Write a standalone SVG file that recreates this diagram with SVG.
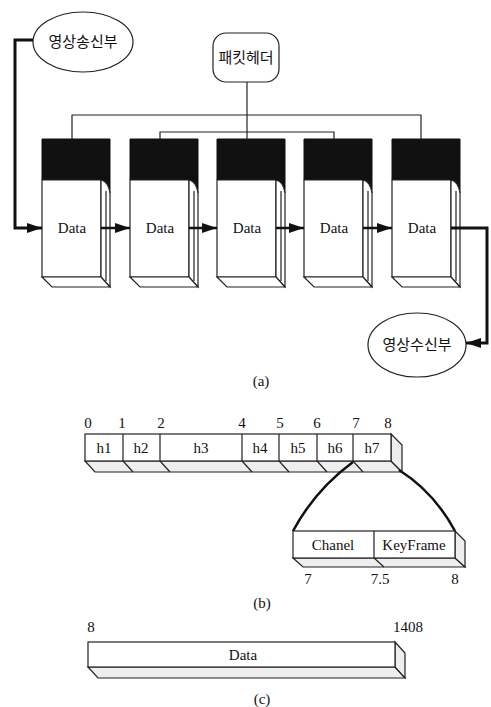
<svg xmlns="http://www.w3.org/2000/svg" width="491" height="707" viewBox="0 0 491 707">
<defs>
<style>
.ln{fill:none;stroke:#222;stroke-width:1.2}
.thick{fill:none;stroke:#111;stroke-width:3}
.arr{fill:none;stroke:#111;stroke-width:2.5}
.ko{font-family:"Noto Sans CJK KR","Noto Sans",sans-serif;font-size:15px;fill:#111;text-anchor:middle}
.t{font-family:"Liberation Serif",serif;font-size:15px;fill:#111;text-anchor:middle}
.face{fill:#fff;stroke:#222;stroke-width:1.2}
.shade{fill:#eeeeee;stroke:#222;stroke-width:1.2}
.dark{fill:#111;stroke:#111;stroke-width:1}
</style>
<marker id="ah" markerUnits="userSpaceOnUse" markerWidth="16" markerHeight="12" refX="15" refY="5" orient="auto">
<path d="M0,0 L15,5 L0,10 Z" fill="#111"/>
</marker>
<g id="blk">
<path class="dark" d="M0,0 H68 V54 Q66,42 59,41 H0 Z"/>
<path class="face" d="M0,41 H59 V138 H0 Z"/>
<path class="face" d="M59,41 Q66,42 68,54 V148 L59,138 Z"/>
<path class="ln" d="M64,52 V142"/>
<path class="face" d="M0,138 H59 L68,148 H10 Z"/>
</g>
</defs>
<rect width="491" height="707" fill="#fff"/>

<g id="sender">
<ellipse cx="83" cy="42" rx="50" ry="30" class="face"/>
<text x="83" y="47" class="ko">영상송신부</text>
</g>
<g id="header">
<rect x="213" y="33" width="66" height="49" rx="13" class="face"/>
<text x="246" y="63" class="ko">패킷헤더</text>
</g>
<g id="receiver">
<ellipse cx="417" cy="345" rx="49" ry="32" class="face"/>
<text x="417" y="350" class="ko">영상수신부</text>
</g>

<g id="box1"><use href="#blk" x="42" y="139"/><text x="72" y="233" class="t">Data</text></g>
<g id="box2"><use href="#blk" x="130" y="139"/><text x="160" y="233" class="t">Data</text></g>
<g id="box3"><use href="#blk" x="217" y="139"/><text x="247" y="233" class="t">Data</text></g>
<g id="box4"><use href="#blk" x="304" y="139"/><text x="334" y="233" class="t">Data</text></g>
<g id="box5"><use href="#blk" x="392" y="139"/><text x="422" y="233" class="t">Data</text></g>

<g id="connectors">
<path class="ln" d="M247,82 V140"/>
<path class="ln" d="M72,139 V115 H421 V139"/>
<path class="ln" d="M160,139 V132 H334 V139"/>
<path class="thick" d="M33,40 H15 V228 H42" marker-end="url(#ah)"/>
<path class="arr" d="M101,228 H130" marker-end="url(#ah)"/>
<path class="arr" d="M189,228 H217" marker-end="url(#ah)"/>
<path class="arr" d="M276,228 H304" marker-end="url(#ah)"/>
<path class="arr" d="M363,228 H392" marker-end="url(#ah)"/>
<path class="thick" d="M451,228 H487 V343 H466" marker-end="url(#ah)"/>
</g>
<text x="261" y="386" class="t">(a)</text>

<g id="header-bar">
<path class="shade" d="M85,461 H391 L402,472 H95 Z"/>
<path class="shade" d="M391,434 L402,445 V472 L391,461 Z"/>
<rect x="85" y="434" width="306" height="27" class="face"/>
<path class="ln" d="M123,434 V461 L133,472 M160,434 V461 L170,472 M242,434 V461 L252,472 M279,434 V461 L289,472 M317,434 V461 L327,472 M353,434 V461 L363,472"/>
<text x="104" y="453" class="t">h1</text>
<text x="141" y="453" class="t">h2</text>
<text x="201" y="453" class="t">h3</text>
<text x="260" y="453" class="t">h4</text>
<text x="298" y="453" class="t">h5</text>
<text x="335" y="453" class="t">h6</text>
<text x="372" y="453" class="t">h7</text>
<text x="88" y="428" class="t">0</text>
<text x="122" y="428" class="t">1</text>
<text x="161" y="428" class="t">2</text>
<text x="242" y="428" class="t">4</text>
<text x="280" y="428" class="t">5</text>
<text x="317" y="428" class="t">6</text>
<text x="356" y="428" class="t">7</text>
<text x="388" y="428" class="t">8</text>
</g>

<g id="expand">
<path class="arr" d="M353,462 Q315,490 293,531"/>
<path class="arr" d="M399,470 Q434,492 455,531"/>
</g>

<g id="h7-bar">
<path class="shade" d="M293,558 H455 L465,567 H303 Z"/>
<path class="shade" d="M455,531 L465,541 V567 L455,558 Z"/>
<rect x="293" y="531" width="162" height="27" class="face"/>
<path class="ln" d="M374,531 V558 L384,567"/>
<text x="333" y="550" class="t">Chanel</text>
<text x="414" y="550" class="t">KeyFrame</text>
<text x="308" y="584" class="t">7</text>
<text x="380" y="584" class="t">7.5</text>
<text x="455" y="584" class="t">8</text>
</g>
<text x="262" y="608" class="t">(b)</text>

<g id="data-bar">
<path class="shade" d="M88,667 H395 L405,678 H98 Z"/>
<path class="shade" d="M395,642 L405,653 V678 L395,667 Z"/>
<rect x="88" y="642" width="307" height="25" class="face"/>
<text x="243" y="660" class="t">Data</text>
<text x="91" y="632" class="t">8</text>
<text x="408" y="632" class="t">1408</text>
</g>
<text x="262" y="704" class="t">(c)</text>
</svg>
